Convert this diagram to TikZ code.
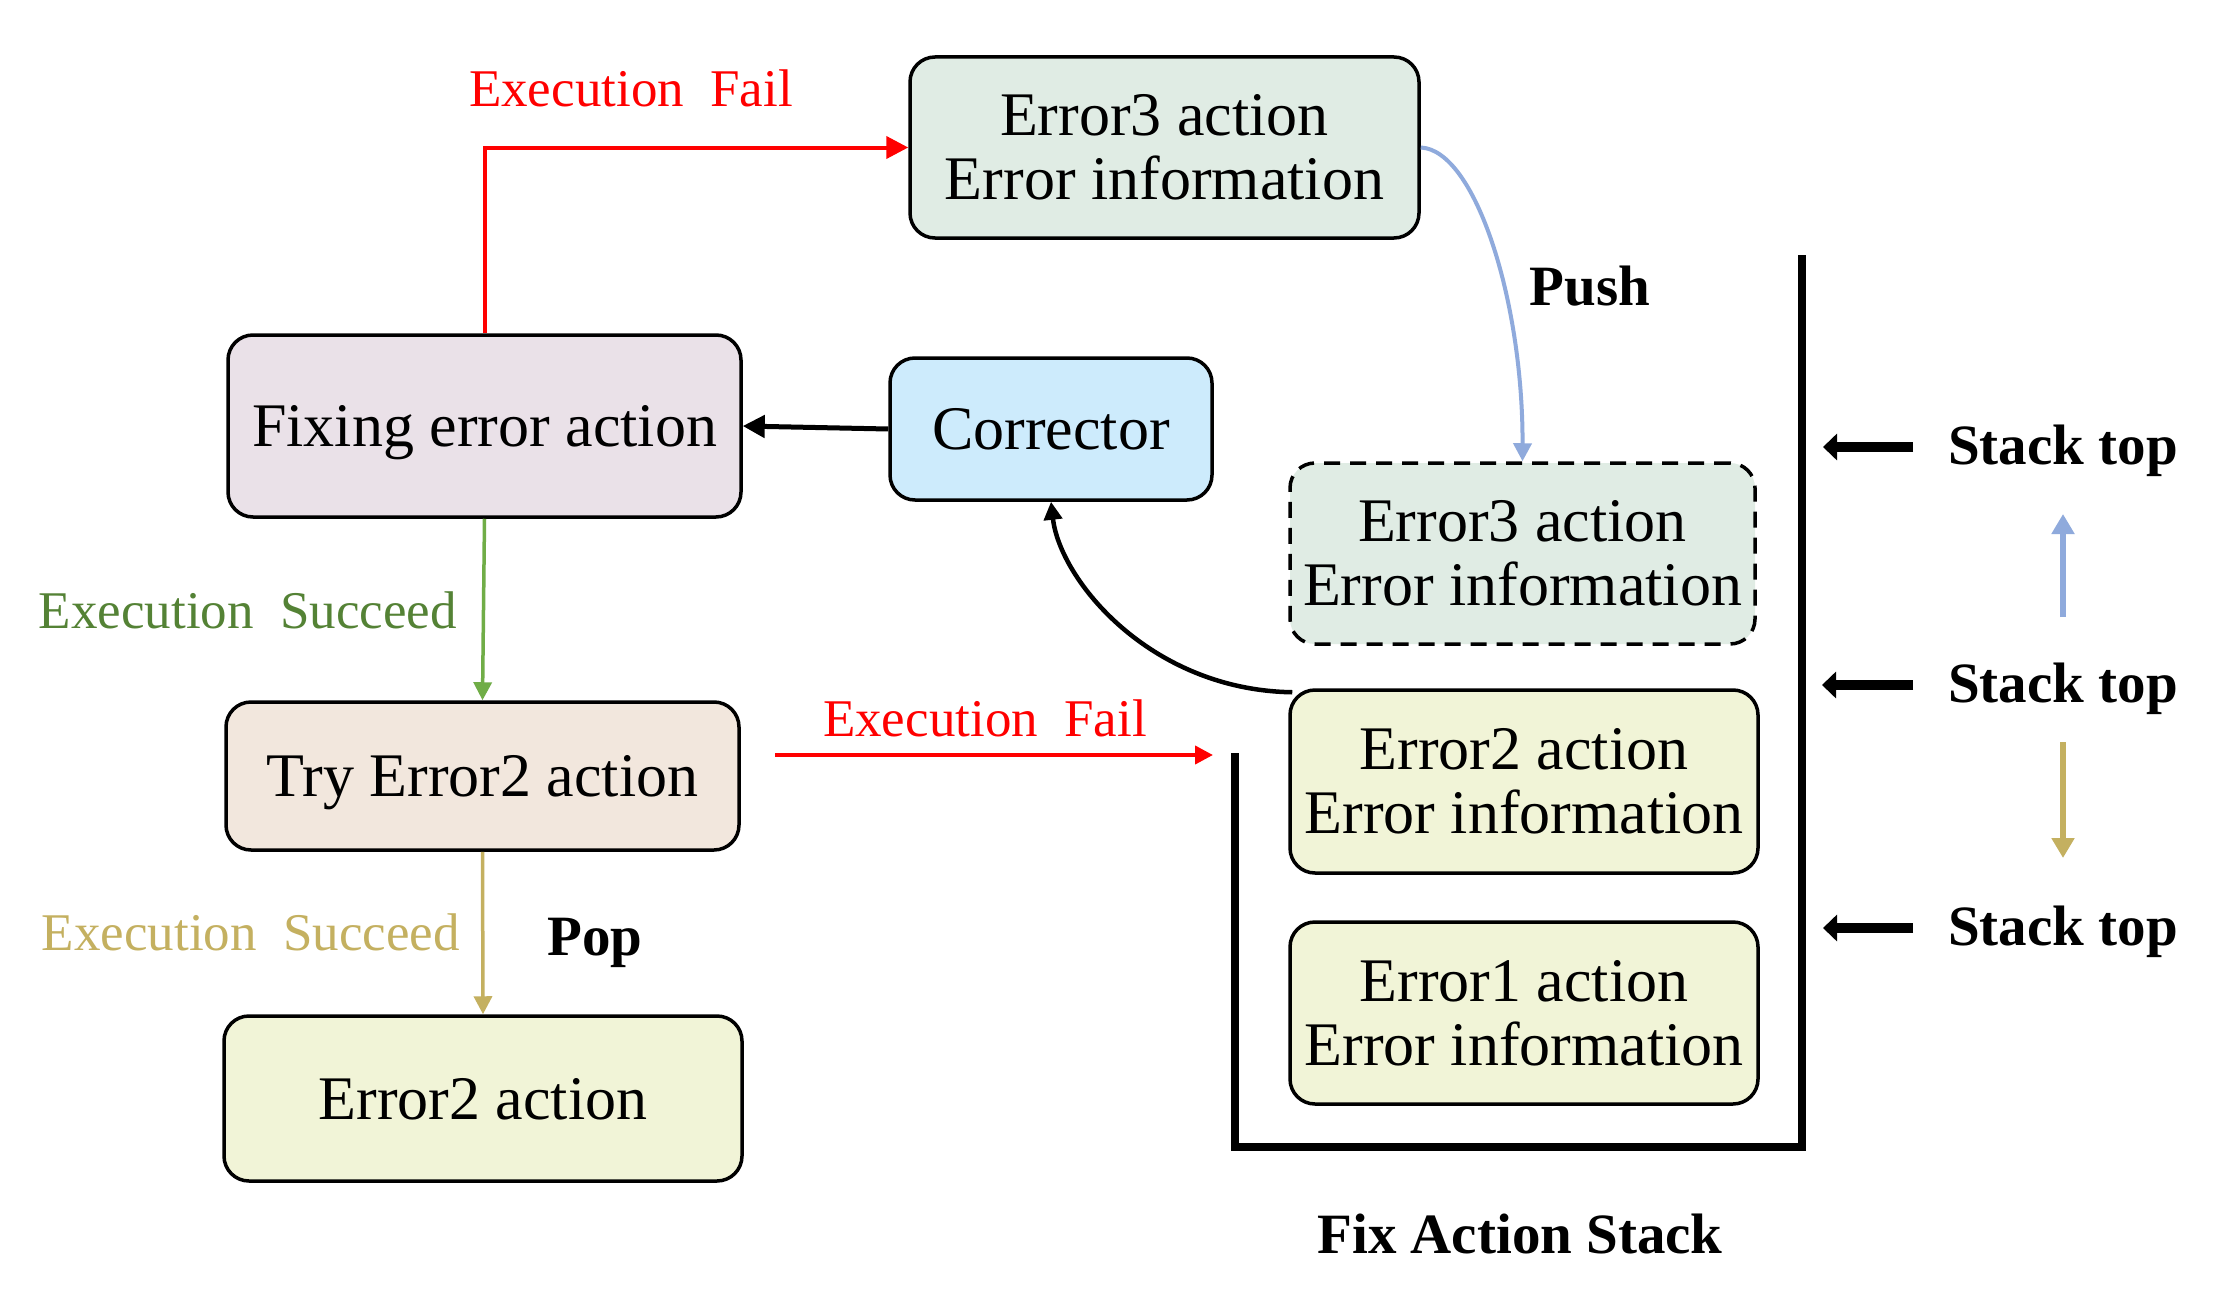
\documentclass[tikz,border=0pt]{standalone}
\usepackage{fontspec}
\setmainfont{Liberation Serif}
\usetikzlibrary{arrows.meta}
\definecolor{cE3}{RGB}{224,236,228}
\definecolor{cFix}{RGB}{234,225,232}
\definecolor{cCorr}{RGB}{205,235,252}
\definecolor{cTry}{RGB}{242,231,221}
\definecolor{cE2}{RGB}{241,244,215}
\definecolor{cGreenT}{RGB}{84,130,53}
\definecolor{cGreenA}{RGB}{112,173,71}
\definecolor{cTan}{RGB}{196,176,96}
\definecolor{cBlue}{RGB}{143,170,220}
\tikzset{
  box/.style={draw=black, line width=3.5pt, rounded corners=25pt, inner sep=0pt, align=center,
    font=\fontsize{62}{64}\selectfont},
  one/.style={text depth=0pt},
  lbl/.style={inner sep=0pt, font=\fontsize{53}{60}\selectfont},
  bold/.style={inner sep=0pt, font=\fontsize{57}{64}\selectfont\bfseries},
  tipA/.style={-{Triangle[length=22pt,width=22pt]}},
  tipB/.style={-{Triangle[length=18pt,width=18pt]}},
  stk/.style={line width=10pt, -{Triangle[length=14pt,width=26pt]}},
}
\begin{document}
\begin{tikzpicture}[x=1pt,y=-1pt]
\useasboundingbox[fill=white] (0,0) rectangle (2225,1314);
% boxes
\node[box, fill=cE3, minimum width=509pt, minimum height=181pt] (e3) at (1164.5,147.5) {Error3 action\\Error information};
\node[box, one, fill=cFix, minimum width=513pt, minimum height=182pt] (fix) at (484.5,426) {Fixing error action};
\node[box, one, fill=cCorr, minimum width=322pt, minimum height=142pt] (corr) at (1051,429) {Corrector};
\node[box, one, fill=cTry, minimum width=513pt, minimum height=148pt] (try) at (482.5,776) {Try Error2 action};
\node[box, one, fill=cE2, minimum width=518pt, minimum height=165pt] (e2b) at (483,1098.5) {Error2 action};
\node[box, fill=cE3, dash pattern=on 16pt off 10pt, minimum width=465pt, minimum height=181pt] (e3s) at (1522.5,553.5) {Error3 action\\Error information};
\node[box, fill=cE2, minimum width=468pt, minimum height=183pt] (e2s) at (1524,781.5) {Error2 action\\Error information};
\node[box, fill=cE2, minimum width=468pt, minimum height=182pt] (e1s) at (1524,1013) {Error1 action\\Error information};
% stack container
\coordinate (sA) at (1235,753);
\coordinate (sB) at (1235,1147);
\coordinate (sC) at (1802,1147);
\coordinate (sD) at (1802,255);
\draw[line width=8.5pt, miter limit=10] (sA) -- (sB) -- (sC) -- (sD);
% labels
\node[lbl, text=red] (ef1) at (631,88) {Execution\ \ Fail};
\node[lbl, text=red] (ef2) at (985,718) {Execution\ \ Fail};
\node[lbl, text=cGreenT, anchor=east] (es1) at (457,610) {Execution\ \ Succeed};
\node[lbl, text=cTan, anchor=east] (es2) at (460,932) {Execution\ \ Succeed};
\node[bold] (push) at (1590,286) {Push};
\node[bold] (pop) at (595,943) {Pop};
\node[bold] (fas) at (1520,1234) {Fix Action Stack};
\node[bold] (st1) at (2063,451) {Stack top};
\node[bold] (st2) at (2063,689) {Stack top};
\node[bold] (st3) at (2063,932) {Stack top};
% connectors
\draw[red, line width=4pt, tipA] (fix.north) |- (e3.west);
\draw[black, line width=5pt, tipA] (corr.west) -- (fix.east);
\draw[cGreenA, line width=3.5pt, tipB] (fix.south) -- (try.north);
\draw[cTan, line width=3.5pt, tipB] (try.south) -- (e2b.north);
\coordinate (f2a) at (775,755);
\coordinate (f2b) at (1213,755);
\draw[red, line width=4pt, tipB] (f2a) -- (f2b);
\draw[black, line width=4.5pt, tipB] ([xshift=4pt,yshift=-4pt]e2s.north west) .. controls (1150,690) and (1060,580) .. (corr.south);
\draw[cBlue, line width=4pt, tipB] (e3.east) .. controls (1475,150) and (1523,300) .. (e3s.north);
% stack top arrows
\coordinate (a1s) at (1913,447); \coordinate (a1e) at (1823,447);
\coordinate (a2s) at (1913,685); \coordinate (a2e) at (1822,685);
\coordinate (a3s) at (1913,928); \coordinate (a3e) at (1823,928);
\draw[stk] (a1s) -- (a1e);
\draw[stk] (a2s) -- (a2e);
\draw[stk] (a3s) -- (a3e);
\coordinate (bu1) at (2063,617); \coordinate (bu2) at (2063,514);
\coordinate (td1) at (2063,742); \coordinate (td2) at (2063,858);
\draw[cBlue, line width=6pt, -{Triangle[length=20pt,width=22pt]}] (bu1) -- (bu2);
\draw[cTan, line width=6pt, -{Triangle[length=20pt,width=22pt]}] (td1) -- (td2);
\end{tikzpicture}
\end{document}
